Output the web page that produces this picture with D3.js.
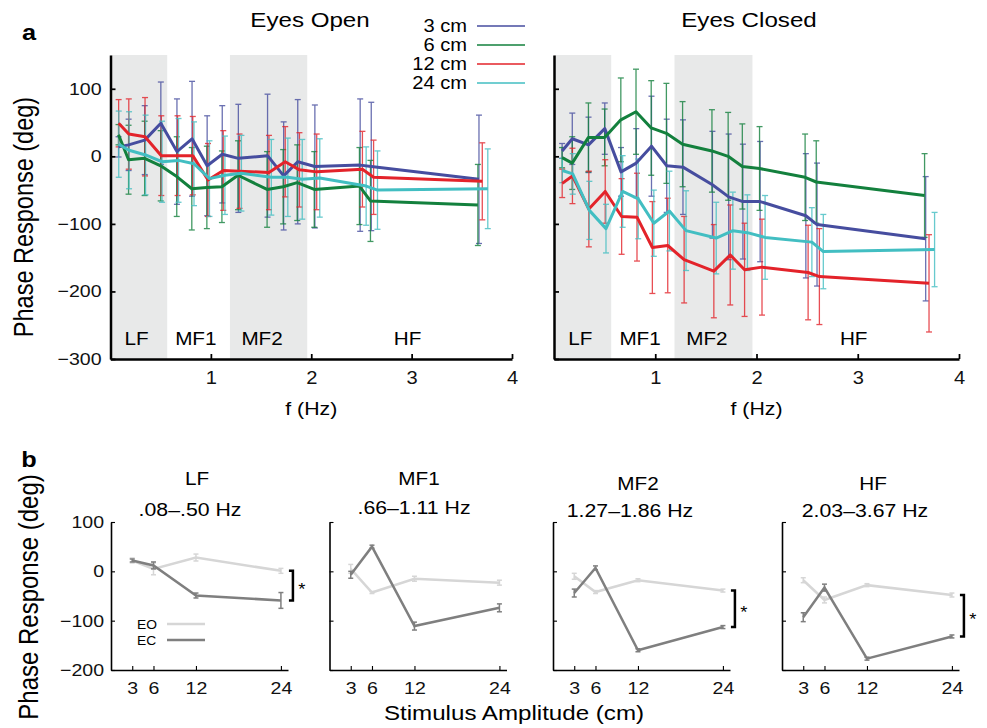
<!DOCTYPE html>
<html>
<head>
<meta charset="utf-8">
<script src="https://cdn.jsdelivr.net/npm/d3@7"></script>
<style>
  body { margin: 0; background: #fff; }
  svg { font-family: "Liberation Sans", Arial, Helvetica, sans-serif; }
</style>
</head>
<body>
<svg width="987" height="728"></svg>
<script>
var svg = d3.select('svg');
var SX = 1.15; // the figure's lettering is a bit wider than plain Helvetica

// ---- panel a data ----
var freqs = [0.08, 0.18, 0.34, 0.50, 0.66, 0.81, 0.96, 1.11, 1.27, 1.56, 1.72, 1.86, 2.03, 2.48, 2.59, 3.66];
var amplitudes = ['3 cm', '6 cm', '12 cm', '24 cm'];
var colors = ['#464d9f', '#13803d', '#e3232a', '#42bec2'];
var shift = [1.003, 1.0, 1.012, 1.027];

// eyes open, mean phase (deg) and error
var eo3 = [14, 17, 24, 49, 7, 26, -14, 3, -3, 1, -29, -8, -15, -13, -15, -34];
var eo6 = [32, -5, -3, -14, -30, -48, -46, -45, -28, -49, -45, -39, -49, -44, -66, -72];
var eo12 = [49, 33, 29, 1, 1, 1, -35, -21, -22, -24, -8, -20, -23, -19, -31, -37];
var eo24 = [18, 9, 2, -8, -6, -11, -33, -28, -25, -31, -31, -34, -32, -44, -50, -48];
var eo3err = [15, 38, 51, 61, 78, 85, 74, 72, 80, 91, 80, 92, 91, 98, 95, 95];
var eo6err = [15, 51, 55, 52, 59, 61, 61, 53, 51, 56, 55, 56, 56, 57, 60, 60];
var eo12err = [35, 52, 58, 59, 59, 58, 54, 59, 55, 55, 52, 55, 56, 56, 55, 57];
var eo24err = [49, 57, 59, 60, 62, 62, 56, 58, 56, 56, 58, 59, 58, 58, 58, 59];

// eyes closed
var ec3 = [8, 26, 17, 41, -23, -10, 15, -14, -16, -42, -60, -67, -67, -88, -101, -122];
var ec6 = [-2, -10, 28, 28, 54, 66, 42, 34, 18, 8, 0, -15, -18, -31, -38, -58];
var ec12 = [-40, -29, -78, -52, -89, -90, -135, -132, -153, -170, -146, -168, -164, -172, -178, -188];
var ec24 = [-21, -26, -80, -107, -52, -63, -99, -81, -110, -121, -110, -113, -120, -127, -141, -138];
var ec3err = [11, 38, 41, 38, 36, 51, 74, 69, 70, 79, 93, 85, 89, 92, 91, 92];
var ec6err = [15, 39, 51, 42, 62, 63, 70, 74, 63, 61, 65, 63, 62, 64, 61, 62];
var ec12err = [21, 41, 56, 47, 56, 65, 68, 70, 64, 69, 74, 69, 71, 70, 71, 72];
var ec24err = [18, 30, 43, 36, 53, 59, 49, 59, 59, 53, 57, 56, 62, 51, 55, 55];

var shaded = [[0, 0.565], [1.19, 1.96]];
var bandNames = ['LF', 'MF1', 'MF2', 'HF'];
var bandRanges = ['.08\u2013.50 Hz', '.66\u20131.11 Hz', '1.27\u20131.86 Hz', '2.03\u20133.67 Hz'];
var freqTicks = [1, 2, 3, 4];
var phaseTicks = [100, 0, -100, -200, -300];

// ---- panel b data ----
var stim = [3, 6, 12, 24];
var lfEO = [22, 5, 28, 1], lfEC = [22, 12, -49, -59];
var mf1EO = [5, -43, -15, -23], mf1EC = [-7, 50, -111, -74];
var mf2EO = [-10, -42, -18, -39], mf2EC = [-44, 7, -160, -113];
var hfEO = [-18, -58, -28, -48], hfEC = [-93, -33, -177, -132];
var lfEOerr = [5, 12, 7, 5], lfECerr = [3, 7, 5, 16];
var mf1EOerr = [9, 2, 5, 5], mf1ECerr = [7, 3, 8, 8];
var mf2EOerr = [6, 3, 3, 3], mf2ECerr = [8, 4, 3, 3];
var hfEOerr = [5, 6, 3, 4], hfECerr = [9, 7, 3, 3];
var significant = [true, false, true, true];
var phaseTicksB = [100, 0, -100, -200];

function txt(g, x, y, s, size, anchor) {
  return g.append('text')
    .attr('transform', 'translate(' + x + ',' + y + ') scale(' + SX + ',1)')
    .attr('text-anchor', anchor || 'middle')
    .style('font-size', size + 'px')
    .text(s);
}

function styleAxis(ax, width, size) {
  ax.attr('font-family', null).attr('font-size', null);
  ax.select('.domain').attr('stroke-width', width);
  ax.selectAll('.tick line').attr('stroke-width', width * 0.7);
  ax.selectAll('.tick text').style('font-size', size + 'px').attr('fill', '#111');
}

function drawA(left, right, means, errs, title, titleX) {
  var x = d3.scaleLinear().domain([0, 4]).range([left, right]);
  var y = d3.scaleLinear().domain([-300, 150]).range([359, 55]);
  var g = svg.append('g');

  shaded.forEach(function(b) {
    g.append('rect')
      .attr('x', x(b[0])).attr('width', x(b[1]) - x(b[0]))
      .attr('y', y(150)).attr('height', y(-300) - y(150))
      .attr('fill', '#e8e9e9');
  });

  // error bars first, lines on top
  means.forEach(function(m, s) {
    var eg = g.append('g').attr('stroke', colors[s]).attr('stroke-width', 1.3).attr('opacity', 0.8);
    m.forEach(function(v, j) {
      var cx = x(freqs[j] * shift[s]);
      var lo = y(v - errs[s][j]), hi = y(v + errs[s][j]);
      eg.append('line').attr('x1', cx).attr('x2', cx).attr('y1', lo).attr('y2', hi);
      eg.append('line').attr('x1', cx - 3).attr('x2', cx + 3).attr('y1', lo).attr('y2', lo);
      eg.append('line').attr('x1', cx - 3).attr('x2', cx + 3).attr('y1', hi).attr('y2', hi);
    });
  });
  means.forEach(function(m, s) {
    var line = d3.line()
      .x(function(d, j) { return x(freqs[j] * shift[s]); })
      .y(function(d) { return y(d); });
    g.append('path').datum(m)
      .attr('d', line)
      .attr('fill', 'none')
      .attr('stroke', colors[s])
      .attr('stroke-width', 3)
      .attr('stroke-linejoin', 'round');
  });

  var bandMid = [0.26, 0.85, 1.51, 2.96];
  bandNames.forEach(function(n, i) {
    txt(g, x(bandMid[i]), 345, n, 18);
  });

  var xAxis = d3.axisBottom(x).tickValues(freqTicks).tickFormat(d3.format('d')).tickSize(-5).tickSizeOuter(0);
  var gx = g.append('g').attr('transform', 'translate(0,' + y(-300) + ')').call(xAxis);
  styleAxis(gx, 2.5, 17.5);
  gx.selectAll('.tick text').attr('y', 25).attr('dy', 0).attr('transform', 'scale(' + SX + ',1)');

  var yAxis = d3.axisLeft(y).tickValues(phaseTicks).tickSize(-5).tickSizeOuter(0).tickPadding(9 / SX);
  if (title !== 'Eyes Open') yAxis.tickFormat('');
  var gy = g.append('g').attr('transform', 'translate(' + left + ',0)').call(yAxis);
  styleAxis(gy, 2.5, 17);
  gy.selectAll('.tick text').attr('transform', 'scale(' + SX + ',1)');

  txt(g, (left + right) / 2, 415, 'f (Hz)', 18.5);
  txt(g, titleX, 27, title, 21);
}

drawA(110.5, 512, [eo3, eo6, eo12, eo24], [eo3err, eo6err, eo12err, eo24err], 'Eyes Open', 310);
drawA(554, 959, [ec3, ec6, ec12, ec24], [ec3err, ec6err, ec12err, ec24err], 'Eyes Closed', 749);

// y label and panel letters
svg.append('text')
  .attr('transform', 'translate(33,217) scale(' + SX + ',1) rotate(-90)')
  .attr('text-anchor', 'middle').style('font-size', '23.5px')
  .text('Phase Response (deg)');
txt(svg, 29, 40, 'a', 22).style('font-weight', 'bold');
txt(svg, 29, 467, 'b', 22).style('font-weight', 'bold');

// legend
var legendY = [26, 45, 64, 83];
amplitudes.forEach(function(a, i) {
  txt(svg, 467, legendY[i] + 6, a, 17.5, 'end');
  svg.append('line').attr('x1', 477).attr('x2', 525)
    .attr('y1', legendY[i]).attr('y2', legendY[i])
    .attr('stroke', colors[i]).attr('stroke-width', 1.5);
});

// ---- panel b ----
var eoB = [lfEO, mf1EO, mf2EO, hfEO], ecB = [lfEC, mf1EC, mf2EC, hfEC];
var eoBerr = [lfEOerr, mf1EOerr, mf2EOerr, hfEOerr], ecBerr = [lfECerr, mf1ECerr, mf2ECerr, hfECerr];
var panelLeft = [111, 329.5, 553, 782];
var titleX = [197, 419, 638, 873], subX = [190, 414, 630, 865];
var titleY = [485, 485, 490, 490], subY = [516, 514, 517, 517];
var grays = ['#d6d6d6', '#7f7f7f'];

panelLeft.forEach(function(left, p) {
  var x = d3.scaleLinear().domain([0, 25]).range([left, left + 177]);
  var y = d3.scaleLinear().domain([-200, 100]).range([670, 522]);
  var g = svg.append('g');

  [eoB[p], ecB[p]].forEach(function(m, k) {
    var err = k === 0 ? eoBerr[p] : ecBerr[p];
    var eg = g.append('g').attr('stroke', grays[k]).attr('stroke-width', 1.5);
    m.forEach(function(v, j) {
      var cx = x(stim[j]), lo = y(v - err[j]), hi = y(v + err[j]);
      eg.append('line').attr('x1', cx).attr('x2', cx).attr('y1', lo).attr('y2', hi);
      eg.append('line').attr('x1', cx - 2.5).attr('x2', cx + 2.5).attr('y1', lo).attr('y2', lo);
      eg.append('line').attr('x1', cx - 2.5).attr('x2', cx + 2.5).attr('y1', hi).attr('y2', hi);
    });
    var line = d3.line().x(function(d, j) { return x(stim[j]); }).y(function(d) { return y(d); });
    g.append('path').datum(m).attr('d', line)
      .attr('fill', 'none').attr('stroke', grays[k]).attr('stroke-width', 2.5);
  });

  var xAxis = d3.axisBottom(x).tickValues(stim).tickSize(-4).tickSizeOuter(0);
  var gx = g.append('g').attr('transform', 'translate(0,670)').call(xAxis);
  styleAxis(gx, 1.6, 17);
  gx.selectAll('.tick text').attr('y', 24).attr('dy', 0).attr('transform', 'scale(' + SX + ',1)');

  var yAxis = d3.axisLeft(y).tickValues(phaseTicksB).tickSize(-4).tickSizeOuter(0).tickPadding(7 / SX);
  if (p > 0) yAxis.tickFormat('');
  var gy = g.append('g').attr('transform', 'translate(' + left + ',0)').call(yAxis);
  styleAxis(gy, 1.6, 17);
  gy.selectAll('.tick text').attr('transform', 'scale(' + SX + ',1)');

  txt(g, titleX[p], titleY[p], bandNames[p], 18);
  txt(g, subX[p], subY[p], bandRanges[p], 18.5);

  if (significant[p]) {
    var bx = x(24) + 12, top = y(eoB[p][3]), bot = y(ecB[p][3]);
    g.append('path')
      .attr('d', 'M' + (bx - 4) + ',' + top + 'H' + bx + 'V' + bot + 'H' + (bx - 4))
      .attr('fill', 'none').attr('stroke', '#000').attr('stroke-width', 2.5);
    txt(g, bx + 9, (top + bot) / 2 + 9, '*', 16);
  }

  if (p === 0) {
    var labs = ['EO', 'EC'], ly = [624, 640];
    labs.forEach(function(l, k) {
      txt(g, 137, ly[k] + 4.5, l, 12, 'start');
      g.append('line').attr('x1', 167).attr('x2', 205).attr('y1', ly[k]).attr('y2', ly[k])
        .attr('stroke', grays[k]).attr('stroke-width', 2.5);
    });
  }
});

svg.append('text')
  .attr('transform', 'translate(38,597) scale(' + SX + ',1) rotate(-90)')
  .attr('text-anchor', 'middle').style('font-size', '24px')
  .text('Phase Response (deg)');
txt(svg, 514, 720, 'Stimulus Amplitude (cm)', 21);
</script>
</body>
</html>
